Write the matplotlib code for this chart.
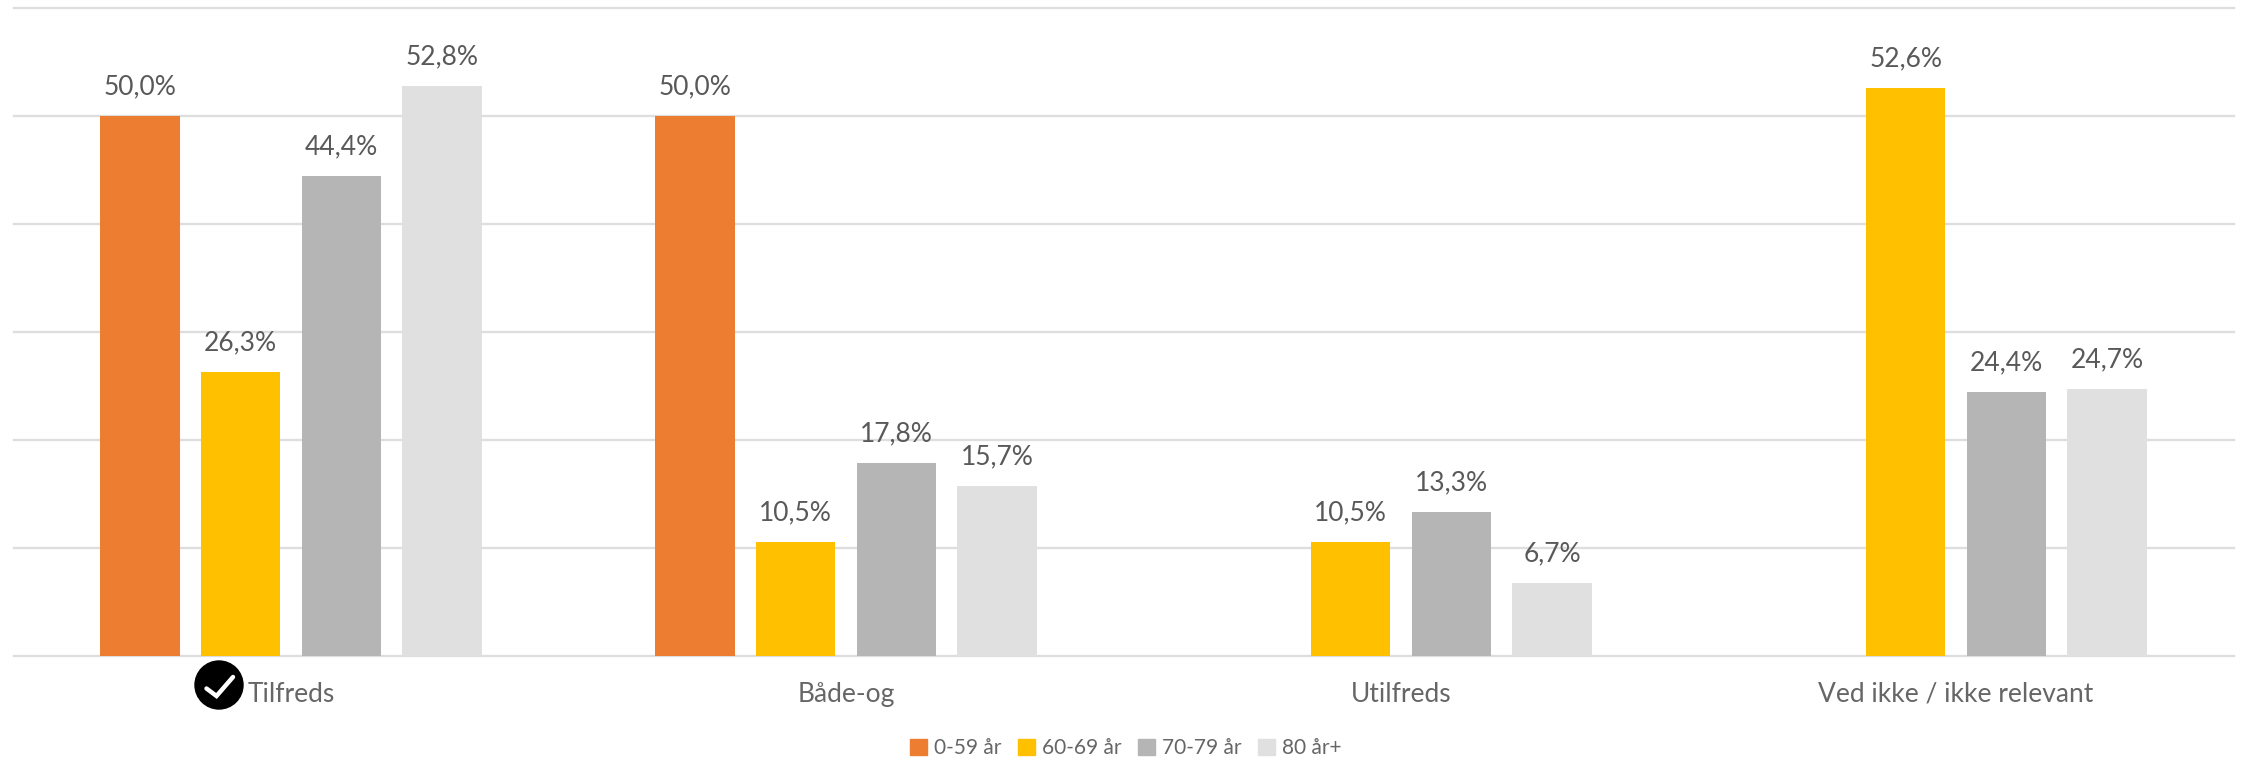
import matplotlib
matplotlib.use("Agg")
import matplotlib.pyplot as plt
from matplotlib.patches import Ellipse, Rectangle
from matplotlib.lines import Line2D
from matplotlib.transforms import IdentityTransform

categories = ["Tilfreds", "Både-og", "Utilfreds", "Ved ikke / ikke relevant"]
series_names = ["0-59 år", "60-69 år", "70-79 år", "80 år+"]
v0 = [50.0, 50.0, None, None]
v1 = [26.3, 10.5, 10.5, 52.6]
v2 = [44.4, 17.8, 13.3, 24.4]
v3 = [52.8, 15.7, 6.7, 24.7]
colors = ["#ED7D31", "#FFC000", "#B5B5B5", "#E0E0E0"]
yticks = [0, 10, 20, 30, 40, 50, 60]

W, H = 2244, 759
plt.rcParams["font.family"] = ["Lato", "DejaVu Sans"]
fig = plt.figure(figsize=(W / 100, H / 100), dpi=100, facecolor="white")
L, R, T, B = 13.5, 2233.5, 8, 655.5
ax = fig.add_axes([L / W, 1 - B / H, (R - L) / W, (B - T) / H])
ax.set_xlim(-0.5, 3.5)
ax.set_ylim(0, 60)
for s in ax.spines.values():
    s.set_visible(False)
ax.set_yticks(yticks)
ax.tick_params(axis="y", length=0, labelleft=False)
ax.tick_params(axis="x", length=0, pad=19, labelsize=19, labelcolor="#666666")
ax.set_xticks(range(4))
ax.set_xticklabels(categories)
ax.set_axisbelow(True)
ax.grid(axis="y", color="#DEDEDE", lw=1.7)
for gl in ax.get_ygridlines():
    gl.set_clip_on(False)

pitch = 0.1815
width = 0.1435
for k, (vals, name, c) in enumerate(zip([v0, v1, v2, v3], series_names, colors)):
    for i, v in enumerate(vals):
        if v is None:
            continue
        x = i + (k - 1.5) * pitch
        ax.bar(x, v, width, color=c, zorder=3)
        ax.annotate(f"{v:.1f}%".replace(".", ","), (x, v), xytext=(0, 12),
                    textcoords="offset points", ha="center", va="bottom",
                    fontsize=19, color="#595959", zorder=4, annotation_clip=False)

handles = [Rectangle((0, 0), 1, 1, color=c) for c in colors]
fig.legend(handles, series_names, loc="center", bbox_to_anchor=(1126 / W, 1 - 748 / H),
           ncol=4, frameon=False, fontsize=15, labelcolor="#666666",
           handlelength=0.8, handleheight=0.8, handletextpad=0.35, columnspacing=0.8,
           borderpad=0, borderaxespad=0)

# check-mark icon, placed in figure pixels (y flipped)
cx, cy, r = 219, 685, 24
tr = IdentityTransform()
fig.add_artist(Ellipse((cx, H - cy), 2 * r, 2 * r, transform=tr, color="black", zorder=10))
fig.add_artist(Line2D([cx - 12.5, cx - 2.5, cx + 14], [H - cy - 3.5, H - cy - 11, H - cy + 8],
                      transform=tr, color="white", lw=3.2, solid_capstyle="round",
                      solid_joinstyle="miter", zorder=11))

fig.savefig("out.png", dpi=100, facecolor="white")
